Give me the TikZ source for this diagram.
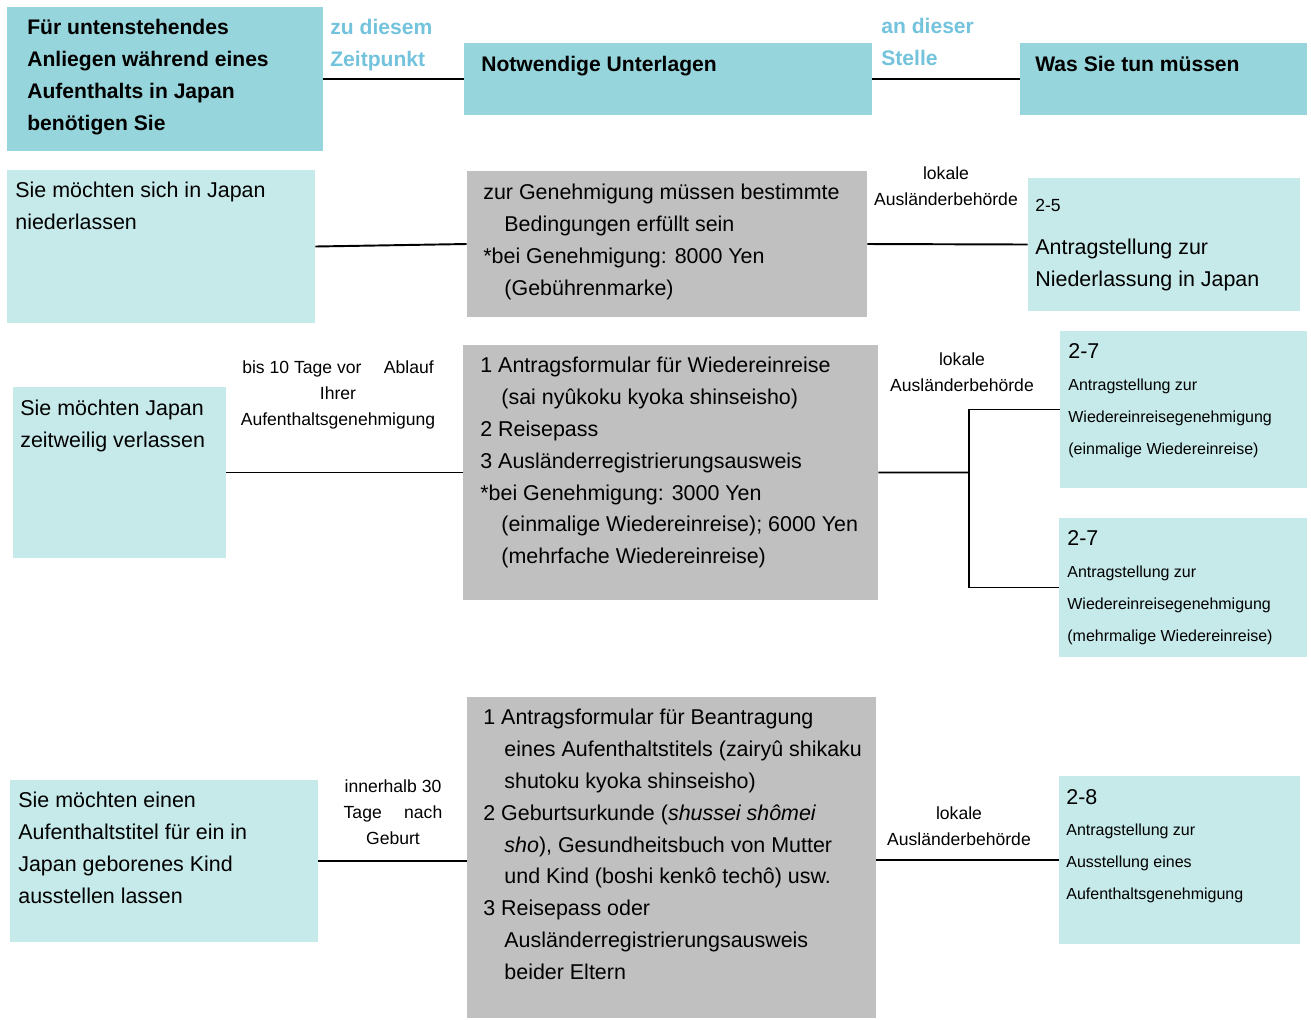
\documentclass[tikz,border=0pt]{standalone}
\usepackage{fontspec}
\setmainfont{Liberation Sans}
\usepackage{tikz}
\usetikzlibrary{fit,positioning}

\definecolor{headcol}{HTML}{96D5DB}
\definecolor{lightcol}{HTML}{C6E9EA}
\definecolor{graycol}{HTML}{C0C0C0}
\definecolor{bluetxt}{HTML}{74C3DC}

\newcommand{\ind}{\hspace*{12pt}}

\begin{document}
\begin{tikzpicture}[x=0.02cm, y=-0.02cm,
    hdbox/.style={fill=headcol, inner sep=0pt},
    ltbox/.style={fill=lightcol, inner sep=0pt},
    gybox/.style={fill=graycol, inner sep=0pt},
    txt/.style={anchor=north west, align=left, inner sep=0pt, font=\fontsize{12.2}{18.1}\selectfont},
    btxt/.style={txt, font=\fontsize{12}{18.1}\selectfont\bfseries},
    small/.style={txt, font=\fontsize{9.1}{18.1}\selectfont},
    lbl/.style={anchor=north, align=center, inner sep=0pt, font=\fontsize{10}{15}\selectfont},
    con/.style={line width=1.1pt}]
  \useasboundingbox (0,0) rectangle (1311,1019);

  % header
  \node[hdbox, fit={(7,7) (323,151)}] (H1) {};
  \node[hdbox, fit={(464,43) (872,115)}] (H2) {};
  \node[hdbox, fit={(1020,43) (1307,115)}] (H3) {};
  \node[btxt] (H1t) at (27,19) {Für untenstehendes\\Anliegen während eines\\Aufenthalts in Japan\\benötigen Sie};
  \node[btxt] (H2t) at (481,56) {Notwendige Unterlagen};
  \node[btxt] (H3t) at (1035,56) {Was Sie tun müssen};
  \node[btxt, text=bluetxt] (when) at (330,19) {zu diesem\\Zeitpunkt};
  \node[btxt, text=bluetxt] (where) at (881,18) {an dieser\\Stelle};

  % niederlassen
  \node[ltbox, fit={(7,170) (315,323)}] (A1) {};
  \node[gybox, fit={(467,171) (867,317)}] (B1) {};
  \node[ltbox, fit={(1028,178) (1300,311)}] (C1) {};
  \node[txt] (A1t) at (15,182) {Sie möchten sich in Japan\\niederlassen};
  \node[txt] (B1t) at (483,184) {zur Genehmigung müssen bestimmte\\
    \ind Bedingungen erfüllt sein\\
    *bei Genehmigung: 8000 Yen\\
    \ind (Gebührenmarke)};
  \node[lbl] (L1) at (946,166) {lokale\\Ausländerbehörde};
  \node[txt, font=\fontsize{10}{15}\selectfont] (C1n) at (1035,199) {2-5};
  \node[txt] (C1t) at (1035,239) {Antragstellung zur\\Niederlassung in Japan};

  % verlassen
  \node[ltbox, fit={(13,387) (226,558)}] (A2) {};
  \node[gybox, fit={(463,345) (878,600)}] (B2) {};
  \node[ltbox, fit={(1060,331) (1307,488)}] (C2a) {};
  \node[ltbox, fit={(1059,518) (1307,657)}] (C2b) {};
  \node[txt] (A2t) at (20,400) {Sie möchten Japan\\zeitweilig verlassen};
  \node[lbl] (T2) at (338,360) {bis 10 Tage vor \quad Ablauf\\Ihrer\\Aufenthaltsgenehmigung};
  \node[txt] (B2t) at (480,357) {1 Antragsformular für Wiedereinreise\\
    \ind (sai nyûkoku kyoka shinseisho)\\
    2 Reisepass\\
    3 Ausländerregistrierungsausweis\\
    *bei Genehmigung: 3000 Yen\\
    \ind (einmalige Wiedereinreise); 6000 Yen\\
    \ind (mehrfache Wiedereinreise)};
  \node[lbl] (L2) at (962,352) {lokale\\Ausländerbehörde};
  \node[txt] (C2an) at (1068,343) {2-7};
  \node[small] (C2at) at (1068,379) {Antragstellung zur\\Wiedereinreisegenehmigung\\(einmalige Wiedereinreise)};
  \node[txt] (C2bn) at (1067,530) {2-7};
  \node[small] (C2bt) at (1067,566) {Antragstellung zur\\Wiedereinreisegenehmigung\\(mehrmalige Wiedereinreise)};
  \coordinate (fork) at (969,472.5);

  % Kind
  \node[ltbox, fit={(10,780) (318,942)}] (A3) {};
  \node[gybox, fit={(467,697) (876,1018)}] (B3) {};
  \node[ltbox, fit={(1059,776) (1300,944)}] (C3) {};
  \node[txt] (A3t) at (18,792) {Sie möchten einen\\Aufenthaltstitel für ein in\\Japan geborenes Kind\\ausstellen lassen};
  \node[lbl] (T3) at (393,779) {innerhalb 30\\Tage \quad nach\\Geburt};
  \node[txt] (B3t) at (483,709) {1 Antragsformular für Beantragung\\
    \ind eines Aufenthaltstitels (zairyû shikaku\\
    \ind shutoku kyoka shinseisho)\\
    2 Geburtsurkunde (\textit{shussei shômei}\\
    \ind \textit{sho}), Gesundheitsbuch von Mutter\\
    \ind und Kind (boshi kenkô techô) usw.\\
    3 Reisepass oder\\
    \ind Ausländerregistrierungsausweis\\
    \ind beider Eltern};
  \node[lbl] (L3) at (959,806) {lokale\\Ausländerbehörde};
  \node[txt] (C3n) at (1066,789) {2-8};
  \node[small] (C3t) at (1066,824) {Antragstellung zur\\Ausstellung eines\\Aufenthaltsgenehmigung};

  % connectors
  \draw[con] (H1.east |- H2.west) -- (H2.west);
  \draw[con] (H2.east) -- (H3.west);
  \draw[con] (A1.east) -- (B1.west);
  \draw[con] (B1.east) -- (C1.west);
  \draw[con] (A2.east) -- (B2.west);
  \draw[con] (B2.east) -- (fork);
  \draw[con] (fork) |- (C2a.west);
  \draw[con] (fork) |- (C2b.west);
  \draw[con] (A3.east) -- (A3.east -| B3.west);
  \draw[con] (B3.east |- C3.west) -- (C3.west);
\end{tikzpicture}
\end{document}
